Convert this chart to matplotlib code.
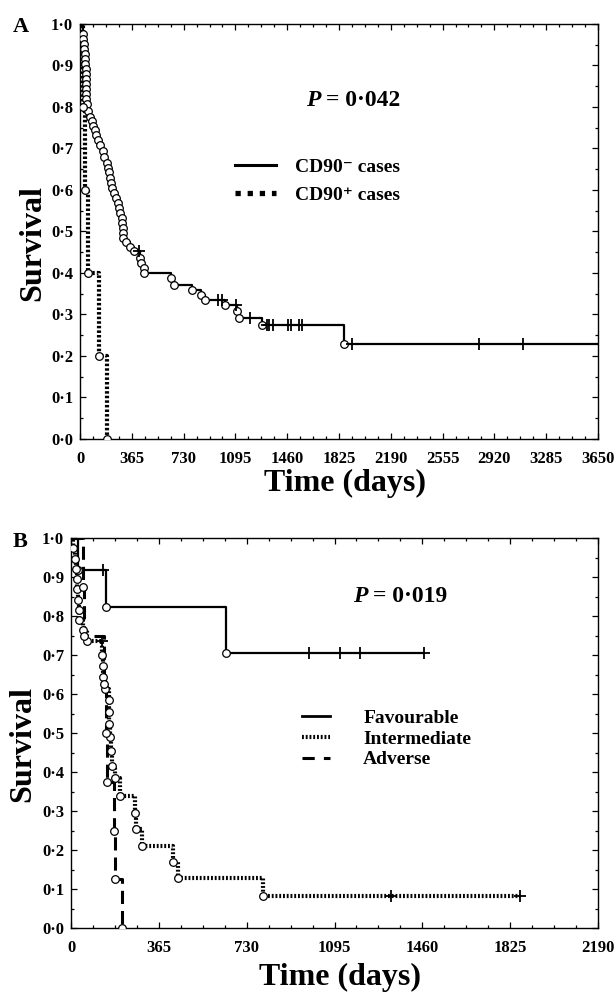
import matplotlib
matplotlib.use("Agg")
import matplotlib.pyplot as plt
from matplotlib.ticker import MultipleLocator, FuncFormatter
from matplotlib.lines import Line2D

plt.rcParams['font.family'] = ['Liberation Serif', 'DejaVu Serif']
plt.rcParams['font.weight'] = 'bold'

# ---- Panel A: CD90 status (event day, survival after event) ----
neg_days = [19, 23, 28, 30, 32, 35, 37, 39, 39, 39, 39, 40, 42, 42, 47, 58, 70, 87, 94, 105,
            112, 124, 140, 159, 171, 187, 199, 204, 211, 218, 227, 241, 253, 265, 274, 281,
            293, 297, 300, 300, 304, 323, 351, 379, 426, 433, 449, 452, 643, 660, 791, 854,
            882, 1022, 1107, 1123, 1280, 1860]
neg_surv = [0.976, 0.964, 0.952, 0.940, 0.928, 0.916, 0.904, 0.892, 0.880, 0.868, 0.856, 0.844,
            0.832, 0.820, 0.808, 0.790, 0.776, 0.766, 0.754, 0.744, 0.732, 0.720, 0.708, 0.694,
            0.680, 0.666, 0.654, 0.644, 0.630, 0.616, 0.604, 0.592, 0.580, 0.568, 0.556, 0.544,
            0.532, 0.520, 0.508, 0.496, 0.484, 0.474, 0.462, 0.452, 0.436, 0.424, 0.412, 0.400,
            0.387, 0.371, 0.360, 0.347, 0.334, 0.322, 0.309, 0.291, 0.275, 0.228]
neg_cens_days = [414, 975, 1000, 1100, 1198, 1315, 1334, 1357, 1465, 1486, 1544, 1563, 1919, 2810, 3120]
neg_cens_surv = [0.452, 0.334, 0.334, 0.322, 0.291, 0.275, 0.275, 0.275, 0.275, 0.275, 0.275, 0.275,
                 0.228, 0.228, 0.228]
neg_end = 3650

pos_days = [23, 35, 56, 133, 187]
pos_surv = [0.8, 0.6, 0.4, 0.2, 0.0]

# ---- Panel B: cytogenetic risk groups ----
fav_days = [30, 145, 646]
fav_surv = [0.917, 0.824, 0.706]
fav_cens_days = [134, 988, 1119, 1202, 1469]
fav_cens_surv = [0.917, 0.706, 0.706, 0.706, 0.706]
fav_end = 1469

int_days = [10, 17, 21, 23, 25, 30, 33, 35, 48, 68, 130, 132, 134, 141, 158, 158, 159, 161,
            165, 172, 182, 203, 265, 270, 297, 424, 445, 798]
int_surv = [0.974, 0.947, 0.921, 0.895, 0.868, 0.842, 0.816, 0.789, 0.763, 0.737, 0.700, 0.672,
            0.644, 0.614, 0.584, 0.553, 0.522, 0.491, 0.453, 0.415, 0.384, 0.338, 0.296, 0.253,
            0.211, 0.170, 0.127, 0.083]
int_cens_days = [127, 1330, 1865]
int_cens_surv = [0.737, 0.083, 0.083]
int_end = 1865

adv_days = [48, 55, 138, 144, 148, 180, 182, 212]
adv_surv = [0.875, 0.75, 0.625, 0.5, 0.375, 0.25, 0.125, 0.0]

SOLID = dict(lw=1.6, linestyle='-')
STRIPE = dict(lw=3.0, linestyle=(0, (0.45, 0.45)))
DASH = dict(lw=2.2, linestyle=(0, (4.3, 2.3)))


def draw_km(ax, days, surv, end_day, cens_days=(), cens_surv=(), style=SOLID):
    xs = [0] + list(days) + [end_day]
    ys = [1.0] + list(surv) + [surv[-1]]
    ax.step(xs, ys, where='post', color='black', zorder=2, **style)
    ax.plot(days, surv, 'o', ms=5.5, mfc='white', mec='black', mew=0.9, zorder=4)
    if len(cens_days):
        ax.plot(cens_days, cens_surv, '+', ms=8, mec='black', mew=1.3, zorder=5)


def style_axes(ax, xmax, xmajor):
    ax.set_xlim(0, xmax)
    ax.set_ylim(0, 1.0)
    ax.xaxis.set_major_locator(MultipleLocator(xmajor))
    ax.xaxis.set_minor_locator(MultipleLocator(xmajor / 4))
    ax.yaxis.set_major_locator(MultipleLocator(0.1))
    ax.yaxis.set_minor_locator(MultipleLocator(0.05))
    ax.yaxis.set_major_formatter(FuncFormatter(lambda v, p: f"{v:.1f}".replace('.', '·')))
    ax.xaxis.set_major_formatter(FuncFormatter(lambda v, p: f"{v:.0f}"))
    ax.tick_params(which='both', direction='in', top=True, right=True, width=0.9)
    ax.tick_params(which='major', length=4, labelsize=12)
    ax.tick_params(which='minor', length=2.5)
    ax.tick_params(axis='x', pad=9)
    ax.tick_params(axis='y', pad=5)
    for s in ax.spines.values():
        s.set_linewidth(1.0)


W, H = 615, 998
fig = plt.figure(figsize=(W / 100, H / 100), dpi=100)

axA = fig.add_axes([80 / W, 1 - 439 / H, 518 / W, 415 / H])
axB = fig.add_axes([71 / W, 1 - 928 / H, 527 / W, 390 / H])

draw_km(axA, neg_days, neg_surv, neg_end, neg_cens_days, neg_cens_surv, SOLID)
draw_km(axA, pos_days, pos_surv, pos_days[-1], style=dict(lw=3.0, linestyle=(0, (0.6, 0.5))))
style_axes(axA, 3650, 365)

draw_km(axB, fav_days, fav_surv, fav_end, fav_cens_days, fav_cens_surv, SOLID)
draw_km(axB, int_days, int_surv, int_end, int_cens_days, int_cens_surv, STRIPE)
draw_km(axB, adv_days, adv_surv, adv_days[-1], style=DASH)
style_axes(axB, 2190, 365)

# legends
legA = [Line2D([], [], color='black', lw=2.2),
        Line2D([], [], color='black', lw=3.8, linestyle=(0, (1.0, 1.3)))]
axA.legend(legA, ['CD90⁻ cases', 'CD90⁺ cases'], loc='center left',
           bbox_to_anchor=(235 / W, 1 - 181 / H), bbox_transform=fig.transFigure,
           frameon=False, fontsize=14, handlelength=2.1, handletextpad=1.0,
           labelspacing=0.55, borderpad=0, borderaxespad=0)

legB = [Line2D([], [], color='black', lw=2.0),
        Line2D([], [], color='black', lw=3.0, linestyle=(0, (0.45, 0.45))),
        Line2D([], [], color='black', lw=2.2, linestyle=(0, (4.0, 3.0)))]
axB.legend(legB, ['Favourable', 'Intermediate', 'Adverse'], loc='center left',
           bbox_to_anchor=(302 / W, 1 - 739 / H), bbox_transform=fig.transFigure,
           frameon=False, fontsize=14, handlelength=1.45, handletextpad=1.7,
           labelspacing=0.15, borderpad=0, borderaxespad=0)

# p-values
for (px, py, val) in [(306, 100, '0·042'), (353, 596, '0·019')]:
    t = fig.text(px / W, 1 - py / H, 'P', fontsize=17, style='italic', va='center')
    fig.add_artist(plt.Annotation(f'= {val}', xy=(1, 0), xycoords=t, xytext=(4, 0),
                                  textcoords='offset points', fontsize=17, va='bottom'))

# axis titles and panel letters
for (cx, cy) in [(33, 243), (23, 744)]:
    fig.text(cx / W, 1 - cy / H, 'Survival', fontsize=23, rotation=90, ha='center', va='center')
fig.text(345 / W, 1 - 483 / H, 'Time (days)', fontsize=23, ha='center', va='center')
fig.text(340 / W, 1 - 977 / H, 'Time (days)', fontsize=23, ha='center', va='center')
fig.text(21 / W, 1 - 27 / H, 'A', fontsize=16, ha='center', va='center')
fig.text(20 / W, 1 - 542 / H, 'B', fontsize=16, ha='center', va='center')

fig.savefig('out.png', dpi=100)
